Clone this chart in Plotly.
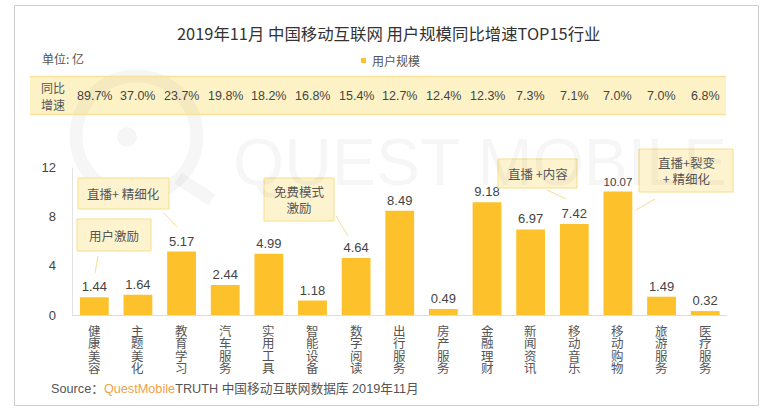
import plotly.graph_objects as go

# data
categories = ['健康美容', '主题美化', '教育学习', '汽车服务', '实用工具', '智能设备', '数字阅读', '出行服务',
              '房产服务', '金融理财', '新闻资讯', '移动音乐', '移动购物', '旅游服务', '医疗服务']
users = [1.44, 1.64, 5.17, 2.44, 4.99, 1.18, 4.64, 8.49, 0.49, 9.18, 6.97, 7.42, 10.07, 1.49, 0.32]
growth = ['89.7%', '37.0%', '23.7%', '19.8%', '18.2%', '16.8%', '15.4%', '12.7%',
          '12.4%', '12.3%', '7.3%', '7.1%', '7.0%', '7.0%', '6.8%']
y_ticks = [0, 4, 8, 12]

W, H = 766, 409
FONT = 'Liberation Sans, Noto Sans CJK SC, sans-serif'
CJK = 'Noto Sans CJK SC, sans-serif'
BAR = '#FDC22B'
TEXT = '#444444'
WATERMARK = 'rgba(0,0,0,0.035)'


# page pixels to paper coordinates
def px(x):
    return x / W


def py(y):
    return 1 - y / H


def rect(x0, y0, x1, y1, **kw):
    return dict(type='rect', xref='paper', yref='paper', x0=px(x0), x1=px(x1), y0=py(y0), y1=py(y1), **kw)


def line(x0, y0, x1, y1, color='#F3E08F', width=1):
    return dict(type='line', xref='paper', yref='paper', x0=px(x0), x1=px(x1), y0=py(y0), y1=py(y1),
                line=dict(color=color, width=width))


def label(x, y, text, size=12, color=TEXT, family=CJK, xanchor='center'):
    return dict(xref='paper', yref='paper', x=px(x), y=py(y), text=text, showarrow=False,
                xanchor=xanchor, yanchor='middle', font=dict(size=size, color=color, family=family))


fig = go.Figure(go.Bar(
    x=categories,
    y=users,
    width=0.66,
    marker=dict(color=BAR, line_width=0),
    text=[f'{v:.2f}' for v in users],
    textposition='outside',
    textfont=dict(size=13, color=TEXT, family=FONT),
    cliponaxis=False,
    showlegend=False,
))

shapes = [
    # outer frame
    rect(14.5, 5.5, 758.5, 405.5, line=dict(color='#CFCFCF', width=1), layer='below'),
    # growth band
    rect(30, 76, 726, 115, fillcolor='#FDF2C6', line=dict(width=0), layer='below'),
    line(30, 76.5, 726, 76.5, '#F8E29A', 1.5),
    line(30, 114.5, 726, 114.5, '#F8E29A', 1.5),
    # watermark logo
    dict(type='circle', xref='paper', yref='paper', x0=px(76), x1=px(197), y0=py(196), y1=py(76),
         line=dict(color=WATERMARK, width=13), layer='below'),
    dict(type='circle', xref='paper', yref='paper', x0=px(117), x1=px(137), y0=py(147), y1=py(127),
         fillcolor=WATERMARK, line=dict(width=0), layer='below'),
    line(178, 178, 212, 200, WATERMARK, 13),
    # legend swatch
    rect(361, 58, 366, 63, fillcolor=BAR, line=dict(width=0)),
    # callout leader lines
    line(98, 256, 95, 273),
    line(164, 213, 177, 227),
    line(336, 216, 348, 236),
    line(547, 190, 566, 199),
    line(655, 199, 636, 210),
]

annotations = [
    # see-through so it does not hide the value labels it crosses
    label(231, 162, 'QUEST MOBILE', size=66, color=WATERMARK, family=FONT, xanchor='left'),
    label(388, 33, '2019年11月 中国移动互联网 用户规模同比增速TOP15行业', size=16.4, color='#333333'),
    label(40, 59, '单位: 亿', color='#555555', xanchor='left'),
    label(370, 60, '用户规模', color='#555555', xanchor='left'),
    label(39, 87, '同比', color='#555555', xanchor='left'),
    label(39, 104, '增速', color='#555555', xanchor='left'),
    label(49, 388, 'Source：<span style="color:#EFA24B">QuestMobile</span>TRUTH 中国移动互联网数据库 2019年11月',
          size=12.7, color='#555555', family=FONT, xanchor='left'),
]

# growth row and vertical category labels follow the x axis
for cat, g in zip(categories, growth):
    annotations.append(dict(xref='x', yref='paper', x=cat, y=py(96), text=g, showarrow=False,
                            yanchor='middle', font=dict(size=12.5, color=TEXT, family=FONT)))
    for i, ch in enumerate(cat):
        annotations.append(dict(xref='x', yref='paper', x=cat, y=py(330 + i * 12.6), text=ch, showarrow=False,
                                yanchor='middle', font=dict(size=12.5, color='#555555', family=CJK)))

# callout boxes: left, top, right, bottom, text
callouts = [
    (77, 219, 151, 251, '用户激励'),
    (78, 178, 169, 209, '直播+ 精细化'),
    (264, 178, 334, 221, '免费模式<br>激励'),
    (498, 159, 577, 188, '直播 +内容'),
    (639, 149, 733, 192, '直播+裂变<br>+ 精细化'),
]
for x0, y0, x1, y1, txt in callouts:
    shapes.append(rect(x0, y0, x1, y1, fillcolor='#FDF3CF', line=dict(color='#F5DF8A', width=1)))
    annotations.append(label((x0 + x1) / 2, (y0 + y1) / 2, txt, size=12.5, color='#555555'))

fig.update_layout(
    width=W,
    height=H,
    margin=dict(l=0, r=0, t=0, b=0, pad=0, autoexpand=False),
    paper_bgcolor='white',
    plot_bgcolor='rgba(0,0,0,0)',
    font=dict(family=FONT, size=13, color=TEXT),
    bargap=0.34,
    shapes=shapes,
    annotations=annotations,
    xaxis=dict(domain=[px(72.5), px(727)], showticklabels=False, showgrid=False, zeroline=False, automargin=False,
               showline=True, linecolor='#DDDDDD', linewidth=1, ticks=''),
    yaxis=dict(domain=[py(315), py(167.7)], range=[0, 12], tickvals=y_ticks, showgrid=False, zeroline=False,
               automargin=False, showline=True, linecolor='#E2E2E2', linewidth=1, ticks='', ticklabelstandoff=13,
               tickfont=dict(size=13, color=TEXT, family=FONT)),
)

# the page's default body margin would shift the chart by 8px
fig.write_html("out.html", config=dict(displayModeBar=False),
               post_script="document.body.style.margin='0';document.body.style.overflow='hidden';")
